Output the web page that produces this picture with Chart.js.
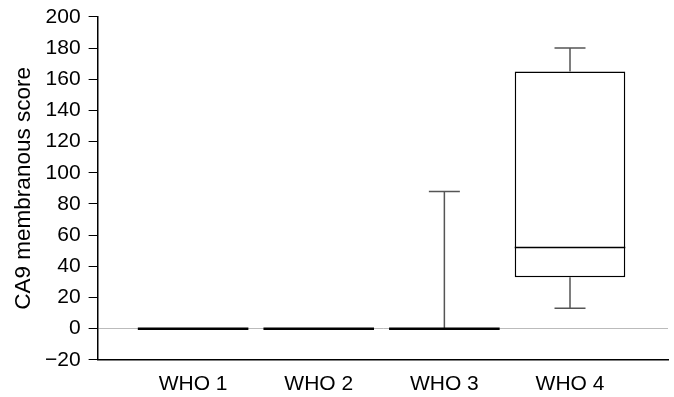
<!DOCTYPE html>
<html lang="en">

<head>
  <meta charset="UTF-8">
  <title>CA9 membranous score by WHO grade</title>
  <script src="https://cdn.jsdelivr.net/npm/chart.js@4.4.1/dist/chart.umd.min.js"></script>
  <style>
    body { margin: 0; background: #fff; }
  </style>
</head>

<body>
  <canvas id="chart" width="674" height="397"></canvas>

  <script>
    // data
    const categories = ['WHO 1', 'WHO 2', 'WHO 3', 'WHO 4'];
    const whiskerLow = [0, 0, 0, 13];
    const q1 = [0, 0, 0, 33];
    const median = [0, 0, 0, 52];
    const q3 = [0, 0, 0, 165];
    const whiskerHigh = [0, 0, 88, 180];
    const yTicks = [-20, 0, 20, 40, 60, 80, 100, 120, 140, 160, 180, 200];

    const font = 'Liberation Sans, Arial, Helvetica, sans-serif';

    // whiskers + medians on top of the floating bars
    const boxExtras = {
      id: 'boxExtras',
      afterDatasetsDraw(chart) {
        const ctx = chart.ctx;
        const xs = chart.scales.x, ys = chart.scales.y;
        const bars = chart.getDatasetMeta(0).data;
        ctx.save();
        categories.forEach((c, i) => {
          const cx = xs.getPixelForValue(i + 1);
          const half = bars[i].width / 2;
          const cap = 15.5;
          ctx.strokeStyle = '#555';
          ctx.lineWidth = 1.5;
          const whisk = (from, to) => {
            if (from === to) return;
            ctx.beginPath();
            ctx.moveTo(cx, ys.getPixelForValue(from));
            ctx.lineTo(cx, ys.getPixelForValue(to));
            ctx.moveTo(cx - cap, ys.getPixelForValue(to));
            ctx.lineTo(cx + cap, ys.getPixelForValue(to));
            ctx.stroke();
          };
          whisk(q3[i], whiskerHigh[i]);
          whisk(q1[i], whiskerLow[i]);
          // median
          ctx.strokeStyle = '#000';
          ctx.lineWidth = q1[i] === q3[i] ? 2.5 : 1.5;
          const my = ys.getPixelForValue(median[i]);
          ctx.beginPath();
          ctx.moveTo(cx - half, my);
          ctx.lineTo(cx + half, my);
          ctx.stroke();
        });
        ctx.restore();
      }
    };

    const ctx = document.getElementById('chart').getContext('2d');
    const myChart = new Chart(ctx, {
      type: 'bar',
      data: {
        datasets: [{
          data: categories.map((c, i) => ({ x: i + 1, y: [q1[i], q3[i]] })),
          backgroundColor: '#fff',
          borderColor: '#000',
          borderWidth: 1.5,
          borderSkipped: false,
          barPercentage: 0.88,
          categoryPercentage: 1
        }]
      },
      options: {
        responsive: false,
        animation: false,
        layout: { padding: { top: 0, right: 6, bottom: -12, left: 10 } },
        plugins: {
          legend: { display: false },
          tooltip: { enabled: false }
        },
        scales: {
          x: {
            type: 'linear',
            offset: false,
            min: 0.24,
            max: 4.78,
            afterBuildTicks: (axis) => {
              axis.ticks = categories.map((c, i) => ({ value: i + 1 }));
            },
            grid: { display: false, drawTicks: false, offset: false },
            border: { display: true, color: '#000', width: 1.5 },
            ticks: {
              color: '#000',
              padding: 12,
              font: { family: font, size: 21 },
              callback: (v) => categories[v - 1]
            }
          },
          y: {
            min: -20,
            max: 200,
            afterBuildTicks: (axis) => {
              axis.ticks = yTicks.map(v => ({ value: v }));
            },
            grid: {
              drawOnChartArea: true,
              color: (c) => c.tick && c.tick.value === 0 ? '#bbb' : 'rgba(0,0,0,0)',
              lineWidth: 1,
              tickColor: '#000',
              tickLength: 9,
              tickWidth: 1
            },
            border: { display: true, color: '#000', width: 1.5 },
            ticks: {
              color: '#000',
              padding: 8,
              font: { family: font, size: 21, lineHeight: 0.85 },
              callback: (v) => v < 0 ? '\u2212' + Math.abs(v) : String(v)
            },
            title: {
              display: true,
              text: 'CA9 membranous score',
              color: '#000',
              padding: { top: 0, bottom: 0 },
              font: { family: font, size: 22.5 }
            }
          }
        }
      },
      plugins: [boxExtras]
    });
  </script>
</body>

</html>
